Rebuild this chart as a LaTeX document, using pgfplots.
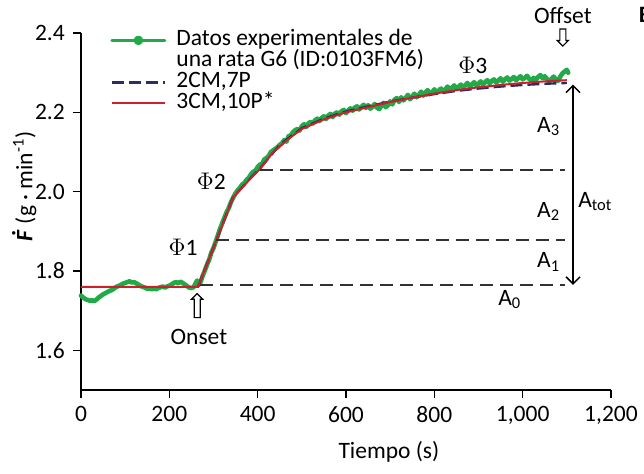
\documentclass[border=0pt]{standalone}
\usepackage{fontspec}
\setmainfont{Carlito}
\usepackage{pgfplots}
\pgfplotsset{compat=1.18}
\usetikzlibrary{shapes.arrows, arrows.meta}
\definecolor{dgreen}{RGB}{34,170,72}
\definecolor{dred}{RGB}{204,32,44}
\definecolor{dblue}{RGB}{44,44,96}
\definecolor{dgray}{RGB}{50,50,50}
\newcommand{\Fdot}{\textbf{\textit{F}}\kern-0.3em\raisebox{0.72em}{\textbf{.}}\kern0.1em}
\pgfplotsset{
  linelegend/.style={legend image code/.code={\draw[##1] (0pt,0pt) -- (26.5pt,0pt);}},
  greenlegend/.style={legend image code/.code={\draw[##1, line width=1.5pt] (0pt,0pt) -- (26.5pt,0pt); \fill[dgreen] (13.25pt,0pt) circle (1.2pt);}},
}

\pgfplotstableread{
x y
0 1.738
5 1.733
10 1.729
15 1.727
20 1.725
25 1.726
30 1.724
35 1.728
40 1.733
45 1.737
50 1.741
55 1.744
60 1.747
65 1.750
70 1.752
75 1.756
80 1.760
85 1.762
90 1.765
95 1.768
100 1.770
105 1.772
110 1.774
115 1.771
120 1.772
125 1.769
130 1.766
135 1.762
140 1.760
145 1.758
150 1.755
155 1.756
160 1.754
165 1.756
170 1.754
175 1.757
180 1.759
185 1.761
190 1.758
195 1.761
200 1.763
205 1.766
210 1.770
215 1.772
220 1.769
225 1.773
230 1.770
235 1.766
240 1.762
245 1.758
250 1.757
255 1.759
260 1.770
263 1.776
266 1.765
270 1.770
275 1.786
280 1.800
285 1.815
290 1.828
295 1.846
300 1.858
305 1.874
310 1.890
315 1.907
320 1.921
325 1.935
330 1.949
335 1.960
340 1.975
345 1.986
350 1.996
355 2.004
360 2.010
365 2.018
370 2.022
375 2.030
380 2.035
385 2.044
390 2.050
395 2.053
400 2.062
405 2.068
410 2.070
415 2.081
420 2.085
425 2.090
430 2.100
435 2.104
440 2.108
445 2.112
450 2.118
455 2.122
460 2.130
465 2.126
470 2.140
475 2.142
480 2.150
485 2.155
490 2.158
495 2.154
500 2.165
505 2.170
510 2.163
515 2.172
520 2.176
525 2.172
530 2.180
535 2.184
540 2.178
545 2.186
550 2.190
555 2.183
560 2.192
565 2.196
570 2.188
575 2.197
580 2.200
585 2.194
590 2.203
595 2.206
600 2.198
605 2.205
610 2.210
615 2.204
620 2.212
625 2.215
630 2.207
635 2.214
640 2.219
645 2.211
650 2.218
655 2.209
660 2.214
665 2.221
670 2.212
675 2.208
680 2.216
685 2.224
690 2.213
695 2.218
700 2.228
705 2.220
710 2.232
715 2.236
720 2.226
725 2.238
730 2.230
735 2.236
740 2.244
745 2.233
750 2.240
755 2.247
760 2.238
765 2.244
770 2.252
775 2.242
780 2.250
785 2.256
790 2.246
795 2.250
800 2.258
805 2.249
810 2.255
815 2.260
820 2.252
825 2.258
830 2.265
835 2.255
840 2.262
845 2.268
850 2.259
855 2.264
860 2.270
865 2.262
870 2.268
875 2.274
880 2.265
885 2.270
890 2.276
895 2.268
900 2.272
905 2.278
910 2.270
915 2.276
920 2.281
925 2.273
930 2.279
935 2.283
940 2.275
945 2.280
950 2.286
955 2.277
960 2.283
965 2.288
970 2.280
975 2.284
980 2.289
985 2.281
990 2.286
995 2.291
1000 2.283
1005 2.287
1010 2.292
1015 2.284
1020 2.280
1025 2.287
1030 2.282
1035 2.289
1040 2.294
1045 2.286
1050 2.291
1055 2.284
1060 2.278
1065 2.284
1070 2.290
1075 2.283
1080 2.279
1085 2.290
1090 2.298
1095 2.303
1100 2.307
1103 2.300
}\greendata

\pgfplotstableread{
x y
265 1.760
306 1.876
344 1.985
383 2.033
405 2.058
450 2.118
500 2.160
550 2.184
600 2.202
650 2.215
700 2.227
750 2.237
800 2.246
850 2.254
900 2.260
950 2.265
1000 2.269
1050 2.272
1100 2.274
}\bluedata

\pgfplotstableread{
x y
0 1.760
265 1.760
306 1.876
344 1.985
383 2.032
405 2.057
435 2.100
470 2.133
500 2.158
550 2.182
600 2.200
650 2.213
700 2.226
750 2.237
800 2.247
850 2.256
900 2.263
950 2.269
1000 2.274
1050 2.278
1100 2.281
}\reddata

\begin{document}
\fontsize{11.75}{14}\selectfont
\begin{tikzpicture}
\begin{axis}[
  scale only axis, width=265pt, height=178.5pt,
  xmin=0, xmax=1200, ymin=1.5, ymax=2.4,
  axis lines=left, axis line style={-, line width=0.75pt},
  xtick={0,200,...,1200}, ytick={1.6,1.8,2.0,2.2,2.4},
  tick align=outside, major tick length=4pt,
  tick style={line width=0.75pt, black},
  x tick label style={/pgf/number format/.cd, 1000 sep={,}},
  y tick label style={/pgf/number format/.cd, fixed, fixed zerofill, precision=1},
  /pgf/number format/assume math mode=true,
  clip=false,
  xlabel={Tiempo (s)},
  xlabel style={at={(axis description cs:0.581,-0.174)}, anchor=center},
  ylabel={\Fdot\,(g · min\textsuperscript{-1})},
  ylabel style={at={(axis description cs:-0.107,0.571)}, anchor=center, inner sep=0pt},
  legend style={draw=none, fill=none, at={(axis cs:65.7,2.409)}, anchor=north west,
    inner sep=0pt, column sep=5pt, row sep=0pt,
    nodes={inner sep=0pt, text height=8pt, text depth=2.5pt}},
  legend cell align=left,
  linelegend,
]
\addplot[dgreen, line width=2.3pt, line join=round, line cap=round, greenlegend]
  table {\greendata};
\addlegendentry{Datos experimentales de}
\addlegendimage{empty legend}
\addlegendentry{una rata G6 (ID:0103FM6)}
\addplot[dblue, line width=1.2pt, dash pattern=on 6pt off 2.5pt] table {\bluedata};
\addlegendentry{2CM,7P}
\addplot[dred, line width=1pt] table {\reddata};
\addlegendentry{3CM,10P*}

\draw[dgray, line width=0.75pt, dash pattern=on 6.5pt off 3.5pt] (axis cs:270,1.765) -- (axis cs:1096,1.765);
\draw[dgray, line width=0.75pt, dash pattern=on 6.5pt off 3.5pt] (axis cs:306,1.878) -- (axis cs:1096,1.878);
\draw[dgray, line width=0.75pt, dash pattern=on 6.5pt off 3.5pt] (axis cs:405,2.055) -- (axis cs:1096,2.055);
\draw[black, line width=0.75pt, {Straight Barb[length=3.5pt,width=7pt]}-{Straight Barb[length=3.5pt,width=7pt]}]
  (axis cs:1114,1.765) -- (axis cs:1114,2.27);

\node[single arrow, draw, fill=white, line width=0.6pt, rotate=90, anchor=tip,
  minimum height=12pt, inner sep=1.2pt, single arrow head extend=1.3pt] at (axis cs:263,1.745) {};
\node[single arrow, draw, fill=white, line width=0.6pt, rotate=-90, anchor=tip,
  minimum height=8.5pt, inner sep=1.2pt, single arrow head extend=1.3pt] at (axis cs:1091,2.365) {};

\node at (axis cs:267,1.634) {Onset};
\node at (axis cs:1091,2.445) {Offset};
\node at (axis cs:231,1.86) {$\Phi$1};
\node at (axis cs:295,2.025) {$\Phi$2};
\node at (axis cs:887,2.319) {$\Phi$3};
\node[anchor=base west, inner sep=0pt] at (axis cs:1032,2.150) {A\textsubscript{3}};
\node[anchor=base west, inner sep=0pt] at (axis cs:1032,1.936) {A\textsubscript{2}};
\node[anchor=base west, inner sep=0pt] at (axis cs:1032,1.808) {A\textsubscript{1}};
\node[anchor=base west, inner sep=0pt] at (axis cs:944,1.714) {A\textsubscript{0}};
\node[anchor=base west, inner sep=0pt] at (axis cs:1125,1.961) {A\textsubscript{tot}};
\node[anchor=west, inner sep=0pt, font=\bfseries] at (axis cs:1262,2.445) {B};
\end{axis}
\pgfresetboundingbox
\path ([xshift=-40.5pt,yshift=-42pt]current axis.south west) rectangle ([xshift=16.5pt,yshift=16.5pt]current axis.north east);
\end{tikzpicture}
\end{document}
